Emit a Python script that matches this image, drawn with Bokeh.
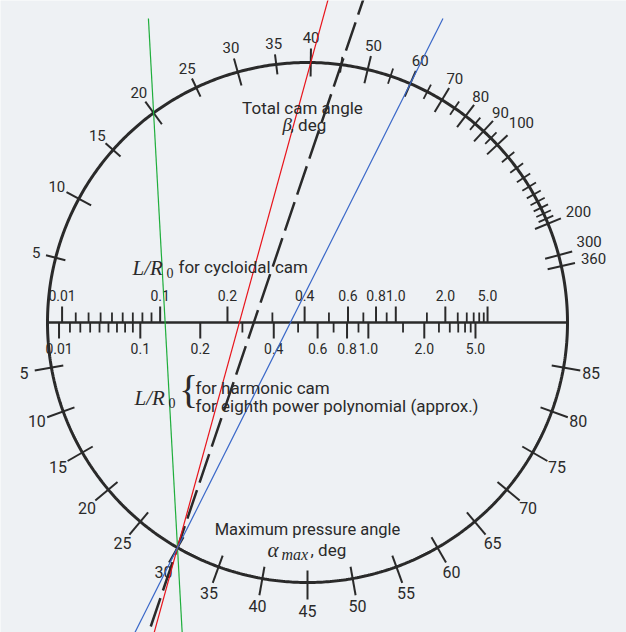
import numpy as np
from bokeh.plotting import figure
from bokeh.models import Range1d
from bokeh.core.properties import value
from bokeh.embed import file_html
from bokeh.resources import INLINE

# ---------------- data ----------------
beta_labeled = [5, 10, 15, 20, 25, 30, 35, 40, 50, 60, 70, 80, 90, 100, 200, 300, 360]
beta_minor = [45, 55, 65, 75, 85, 95, 110, 120, 130, 140, 150, 160, 170, 180, 190]
alpha_values = [5, 10, 15, 20, 25, 30, 35, 40, 45, 50, 55, 60, 65, 70, 75, 80, 85]
lr_major = [0.01, 0.1, 0.2, 0.4, 0.6, 0.8, 1.0, 2.0, 5.0]
lr_major_text = ["0.01", "0.1", "0.2", "0.4", "0.6", "0.8", "1.0", "2.0", "5.0"]
lr_minor = [0.02, 0.03, 0.04, 0.05, 0.06, 0.07, 0.08, 0.09, 0.3, 0.5, 0.7, 0.9,
            1.5, 2.5, 3.0, 3.5, 4.0, 4.5]
example_alpha = 30
book_example_beta = 45
marked_betas = [20, 40, 60]

# ---------------- styles ----------------
INK = "#2a2a2a"
PAPER = "#eef1f4"
marked_colors = ["#1fae3c", "#e8141b", "#3a68c8"]
marked_top = [304, 340, 304]      # where the drawn guide lines stop at the top
R = 260.0                          # circle radius (screen px)
K = 39.5                           # nomogram constant of the beta scale
W, H = 626, 632
CX, CY = 307, 322                  # circle centre on the page

# ---------------- nomogram scales ----------------
phi = np.linspace(0.0, 1.0, 4001)


def m_cyc(v):
    f = (1 - np.cos(2 * np.pi * phi)) / (1 + v * (phi - np.sin(2 * np.pi * phi) / (2 * np.pi)))
    return f.max()


def m_harm(v):
    f = (np.pi / 2) * np.sin(np.pi * phi) / (1 + (v / 2) * (1 - np.cos(np.pi * phi)))
    return f.max()


def lr_x(v, mfun):
    s = K * np.pi / 180.0 / (v * mfun(v))
    return R * (1 - s) / (1 + s)


def beta_theta(b):
    return 2 * np.arctan(K / np.asarray(b, dtype=float))


def alpha_theta(a):
    return np.radians(2 * np.asarray(a, dtype=float) - 180.0)


def polar(theta, r):
    return r * np.cos(theta), r * np.sin(theta)


p = figure(width=W, height=H, x_range=Range1d(-CX, W - CX), y_range=Range1d(CY - H, CY),
           output_backend="svg", toolbar_location=None, min_border=0)
p.axis.visible = False
p.grid.visible = False
p.outline_line_color = None
p.background_fill_color = PAPER
p.border_fill_color = PAPER

# circle and diameter
t = np.linspace(0, 2 * np.pi, 721)
p.line(R * np.cos(t), R * np.sin(t), line_color=INK, line_width=3)
p.line([-R, R], [0, 0], line_color=INK, line_width=2.6)


def seg_radial(theta, r0, r1):
    x0, y0 = polar(theta, r0)
    x1, y1 = polar(theta, r1)
    return x0, y0, x1, y1


# ---- beta scale (top) ----
bl = np.array(beta_labeled, dtype=float)
half = np.array([14 if (b % 10 == 0) else 10 for b in beta_labeled], dtype=float)
th = beta_theta(bl)
x0, y0, x1, y1 = seg_radial(th, R - half, R + half)
p.segment(x0, y0, x1, y1, line_color=INK, line_width=2)
th_m = beta_theta(beta_minor)
x0, y0, x1, y1 = seg_radial(th_m, R - 8, R + 8)
p.segment(x0, y0, x1, y1, line_color=INK, line_width=1.8)
lab_off = np.array([20 if b < 10 else (33 if b >= 100 else hl + 11)
                    for b, hl in zip(beta_labeled, half)], dtype=float)
lab_turn = np.radians([1.0 if b == 300 else 0.0 for b in beta_labeled])
lx, ly = polar(th + lab_turn, R + lab_off)
p.text(lx, ly, text=[str(b) for b in beta_labeled], text_font=value("Roboto"),
       text_font_size="15px", text_color=INK, text_align="center", text_baseline="middle")

# ---- alpha scale (bottom) ----
ta = alpha_theta(alpha_values)
x0, y0, x1, y1 = seg_radial(ta, R - 12, R + 17)
p.segment(x0, y0, x1, y1, line_color=INK, line_width=2)
lx, ly = polar(ta, R + 28)
p.text(lx, ly, text=[str(a) for a in alpha_values], text_font=value("Roboto"),
       text_font_size="16px", text_color=INK, text_align="center", text_baseline="middle")

# ---- L/R0 scales on the diameter ----
xc_major = np.array([lr_x(v, m_cyc) for v in lr_major])
xc_minor = np.array([lr_x(v, m_cyc) for v in lr_minor])
xh_major = np.array([lr_x(v, m_harm) for v in lr_major])
xh_minor = np.array([lr_x(v, m_harm) for v in lr_minor])
p.segment(xc_major, 0, xc_major, 16, line_color=INK, line_width=2)
p.segment(xc_minor, 0, xc_minor, 10, line_color=INK, line_width=1.8)
p.segment(xh_major, 0, xh_major, -16, line_color=INK, line_width=2)
p.segment(xh_minor, 0, xh_minor, -10, line_color=INK, line_width=1.8)
p.text(xc_major, 27, text=lr_major_text, text_font=value("Roboto"),
       text_font_size="14px", text_color=INK, text_align="center", text_baseline="middle")
p.text(xh_major, -26, text=lr_major_text, text_font=value("Roboto"),
       text_font_size="14px", text_color=INK, text_align="center", text_baseline="middle")

# ---- example lines through alpha = 30 ----
bx, by = polar(alpha_theta(example_alpha), R)


def guide(beta, y_top, y_bot=-340):
    tx, ty = polar(beta_theta(beta), R)
    t1 = (y_top - by) / (ty - by)
    t0 = (y_bot - by) / (ty - by)
    return [bx + t0 * (tx - bx), bx + t1 * (tx - bx)], [by + t0 * (ty - by), by + t1 * (ty - by)]


gx, gy = guide(book_example_beta, 340)
p.line(gx, gy, line_color=INK, line_width=2.5, line_dash="30 8")
for b, c, yt in zip(marked_betas, marked_colors, marked_top):
    gx, gy = guide(b, yt)
    p.line(gx, gy, line_color=c, line_width=1.2)


# ---- titles (positions given in page pixels) ----
def X(px):
    return px - CX


def Y(py):
    return CY - py


sans = dict(text_font=value("Roboto"), text_color=INK, text_baseline="alphabetic")
serif_i = dict(text_font=value("Liberation Serif"), text_font_style="italic",
               text_color=INK, text_baseline="alphabetic")
serif = dict(text_font=value("Liberation Serif"), text_color=INK, text_baseline="alphabetic")

p.text([X(302)], [Y(107)], text=["Total cam angle"], text_font_size="17px",
       text_align="center", **sans)
p.text([X(282)], [Y(124)], text=["β"], text_font_size="19px", text_align="left", **serif_i)
p.text([X(290)], [Y(124)], text=[", deg"], text_font_size="17px", text_align="left", **sans)

p.text([X(132)], [Y(267)], text=["L/R"], text_font_size="21px", text_align="left", **serif_i)
p.text([X(166)], [Y(272)], text=["0"], text_font_size="14px", text_align="left", **serif)
p.text([X(178)], [Y(266)], text=["for cycloidal cam"], text_font_size="17px",
       text_align="left", **sans)

p.text([X(134)], [Y(397)], text=["L/R"], text_font_size="21px", text_align="left", **serif_i)
p.text([X(168)], [Y(402)], text=["0"], text_font_size="14px", text_align="left", **serif)
p.text([X(188)], [Y(389)], text=["{"], text_font_size="40px", text_align="center",
       text_font=value("Liberation Serif"), text_color=INK, text_baseline="middle")
p.text([X(195)], [Y(387)], text=["for harmonic cam"], text_font_size="17px",
       text_align="left", **sans)
p.text([X(195)], [Y(405)], text=["for eighth power polynomial (approx.)"],
       text_font_size="17px", text_align="left", **sans)

p.text([X(307)], [Y(529)], text=["Maximum pressure angle"], text_font_size="16.5px",
       text_align="center", **sans)
p.text([X(267)], [Y(549)], text=["α"], text_font_size="21px", text_align="left", **serif_i)
p.text([X(281)], [Y(554)], text=["max"], text_font_size="16px", text_align="left", **serif_i)
p.text([X(310)], [Y(549)], text=[", deg"], text_font_size="17px", text_align="left", **sans)

open("out.html", "w").write(file_html(p, INLINE))
